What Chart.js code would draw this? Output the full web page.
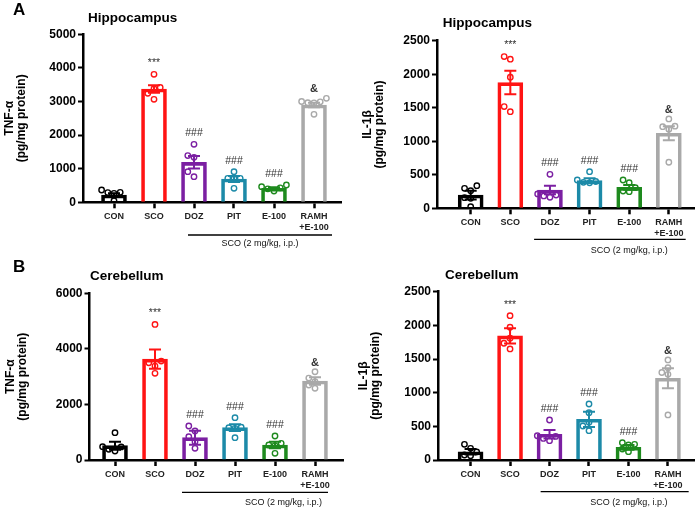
<!DOCTYPE html>
<html>
<head>
<meta charset="utf-8">
<script src="https://cdn.jsdelivr.net/npm/chart.js@4.4.1/dist/chart.umd.min.js"></script>
<style>
  body { margin: 0; background: #fff; width: 700px; height: 508px; position: relative; overflow: hidden; }
  canvas { position: absolute; display: block; }
</style>
</head>
<body>
<canvas id="hippoTnf" width="350" height="270" style="left:0;top:0"></canvas>
<canvas id="hippoIl" width="350" height="270" style="left:350px;top:0"></canvas>
<canvas id="cereTnf" width="350" height="270" style="left:0;top:254px"></canvas>
<canvas id="cereIl" width="350" height="270" style="left:350px;top:254px"></canvas>
<script>
// Groups and significance marks
const groups = ['CON', 'SCO', 'DOZ', 'PIT', 'E-100', ['RAMH', '+E-100']];
const marks = ['', '***', '###', '###', '###', '&'];
const groupColors = ['#000000', '#ff1414', '#7b1fa2', '#1c8aa8', '#1e8a1e', '#a9a9a9'];

// Hippocampus TNF-a
const hippoTnfMean = [217, 3372, 1190, 693, 417, 2896];
const hippoTnfSem = [55, 110, 185, 90, 30, 70];
const hippoTnfPts = [
    [366, 297, 290, 268, 48],
    [3810, 3420, 3380, 3244, 3065],
    [1726, 1390, 1340, 910, 762],
    [911, 714, 714, 700, 417],
    [515, 464, 430, 400, 336],
    [3095, 3000, 2990, 2964, 2960, 2619]
];

// Hippocampus IL-1b
const hippoIlMean = [198, 1875, 273, 412, 313, 1119];
const hippoIlSem = [65, 175, 64, 36, 35, 105];
const hippoIlPts = [
    [337, 298, 263, 158, 150, 24],
    [2263, 2224, 1955, 1517, 1442],
    [507, 215, 198, 184, 164],
    [546, 422, 400, 388, 380],
    [422, 382, 308, 258, 248],
    [1333, 1225, 1218, 1180, 687]
];

// Cerebellum TNF-a
const cereTnfMean = [515, 3633, 803, 1163, 540, 2842];
const cereTnfSem = [145, 347, 250, 120, 118, 133];
const cereTnfPts = [
    [983, 480, 470, 385, 324],
    [4880, 3560, 3500, 3381, 3118],
    [1223, 1043, 839, 659, 420],
    [1522, 1180, 1160, 1139, 803],
    [863, 600, 540, 520, 240],
    [3177, 2950, 2820, 2700, 2579]
];

// Cerebellum IL-1b
const cereIlMean = [123, 1843, 382, 605, 189, 1214];
const cereIlSem = [40, 114, 64, 113, 35, 150];
const cereIlPts = [
    [233, 174, 120, 74, 64],
    [2144, 1972, 1810, 1734, 1650],
    [594, 360, 350, 320, 287],
    [832, 703, 560, 505, 435],
    [257, 233, 223, 163, 123],
    [1486, 1372, 1300, 1273, 669]
];

Chart.defaults.font.family = "'Liberation Sans', Arial, sans-serif";
Chart.defaults.color = '#000';

const W = 350, H = 270, X_AXIS_H = 40, UNIT_PX = 40;

// spread overlapping dots sideways like a scatter dot plot
const swarm = (values, pxPerValue) => {
    const placed = [];
    const step = 6.2;
    return values.slice().sort((a, b) => a - b).map(v => {
        const py = v * pxPerValue;
        for (let k = 0; ; k++) {
            const off = k === 0 ? 0 : (k % 2 ? -1 : 1) * Math.ceil(k / 2) * step;
            if (placed.every(p => Math.hypot(p.x - off, p.y - py) >= step)) {
                placed.push({ x: off, y: py });
                return { off: off / UNIT_PX, v };
            }
        }
    });
};

const extras = {
    id: 'extras',
    afterDraw(chart, args, o) {
        const { ctx } = chart;
        const x = chart.scales.x, y = chart.scales.y;
        ctx.save();

        // error bars (mean +/- SEM)
        o.means.forEach((m, i) => {
            const px = x.getPixelForValue(i);
            const hi = y.getPixelForValue(m + o.sems[i]);
            const lo = y.getPixelForValue(Math.max(m - o.sems[i], 0));
            ctx.strokeStyle = groupColors[i];
            ctx.lineWidth = 2;
            ctx.beginPath();
            ctx.moveTo(px, hi); ctx.lineTo(px, lo);
            ctx.moveTo(px - 6, hi); ctx.lineTo(px + 6, hi);
            ctx.moveTo(px - 6, lo); ctx.lineTo(px + 6, lo);
            ctx.stroke();

            // significance mark above the highest dot / error bar
            if (marks[i]) {
                const top = Math.min(hi, y.getPixelForValue(Math.max(...o.points[i])));
                ctx.fillStyle = '#333';
                ctx.font = marks[i] === '&' ? "bold 11px 'Liberation Sans', Arial" : "10.5px 'Liberation Sans', Arial";
                ctx.textAlign = 'center';
                ctx.textBaseline = 'middle';
                ctx.fillText(marks[i], px, top - (marks[i] === '&' ? 9 : 11));
            }
        });

        // panel letter and region title
        ctx.fillStyle = '#000';
        ctx.textAlign = 'left';
        ctx.textBaseline = 'middle';
        if (o.letter) {
            ctx.font = "bold 17px 'Liberation Sans', Arial";
            ctx.fillText(o.letter, 13, o.letterY);
        }
        ctx.font = "bold 13.5px 'Liberation Sans', Arial";
        ctx.fillText(o.title, o.titleX, o.titleY);

        // treatment bracket
        const [from, to, mid] = o.bracket;
        ctx.strokeStyle = '#000';
        ctx.lineWidth = 1.3;
        ctx.beginPath();
        ctx.moveTo(x.getPixelForValue(from), o.lineY);
        ctx.lineTo(x.getPixelForValue(to), o.lineY);
        ctx.stroke();
        ctx.font = "9px 'Liberation Sans', Arial";
        ctx.textAlign = 'center';
        ctx.fillStyle = '#111';
        ctx.fillText('SCO (2 mg/kg, i.p.)', x.getPixelForValue(mid), o.textY);
        ctx.restore();
    }
};

function makePanel(id, p) {
    const pxPerValue = (p.box.b - p.box.t) / p.yMax;
    const dots = [], dotColors = [];
    p.points.forEach((vals, i) => {
        swarm(vals, pxPerValue).forEach(d => {
            dots.push({ x: i + d.off, y: d.v });
            dotColors.push(groupColors[i]);
        });
    });

    new Chart(document.getElementById(id), {
        type: 'bar',
        data: {
            datasets: [
                {
                    type: 'scatter',
                    data: dots,
                    pointRadius: 2.7,
                    pointBorderWidth: 1.4,
                    pointBorderColor: dotColors,
                    pointBackgroundColor: 'rgba(255,255,255,0)',
                    order: 1
                },
                {
                    type: 'bar',
                    data: p.means.map((m, i) => ({ x: i, y: m })),
                    backgroundColor: 'rgba(255,255,255,0)',
                    borderColor: groupColors,
                    borderWidth: 3,
                    borderSkipped: 'bottom',
                    barThickness: 25,
                    order: 2
                }
            ]
        },
        options: {
            responsive: false,
            animation: false,
            events: [],
            layout: {
                padding: { left: 0, top: p.box.t, right: W - p.box.r, bottom: H - p.box.b - X_AXIS_H }
            },
            plugins: {
                legend: { display: false },
                tooltip: { enabled: false },
                extras: p
            },
            scales: {
                x: {
                    type: 'linear',
                    min: p.xMin,
                    max: p.xMax,
                    offset: false,
                    afterBuildTicks: s => { s.ticks = groups.map((g, i) => ({ value: i })); },
                    afterFit: s => { s.height = X_AXIS_H; },
                    ticks: {
                        autoSkip: false,
                        maxRotation: 0,
                        padding: 3,
                        color: '#222',
                        font: { size: 9, weight: 'bold', lineHeight: 1.2 },
                        callback: v => groups[v]
                    },
                    grid: { offset: false, drawOnChartArea: false, tickLength: 6, tickWidth: 2.5, tickColor: '#000' },
                    border: { color: '#000', width: 2.5 }
                },
                y: {
                    min: 0,
                    max: p.yMax,
                    afterFit: s => { s.width = p.box.l; },
                    ticks: {
                        stepSize: p.yStep,
                        padding: 2,
                        font: { size: 12, weight: 'bold' },
                        callback: v => String(v)
                    },
                    grid: { drawOnChartArea: false, tickLength: 5, tickWidth: 2, tickColor: '#000' },
                    border: { color: '#000', width: 2.5 },
                    title: {
                        display: true,
                        text: p.yTitle,
                        font: { size: 12, weight: 'bold', lineHeight: 1 },
                        padding: { top: p.titlePad, bottom: 0 }
                    }
                }
            }
        },
        plugins: [extras]
    });
}

makePanel('hippoTnf', {
    means: hippoTnfMean, sems: hippoTnfSem, points: hippoTnfPts,
    yMax: 5000, yStep: 1000, yTitle: ['TNF-α', '(pg/mg protein)'], titlePad: 4,
    box: { l: 83, t: 34.3, r: 341, b: 202.3 }, xMin: -0.775, xMax: 5.675,
    letter: 'A', letterY: 10, title: 'Hippocampus', titleX: 88, titleY: 18.5,
    bracket: [1.85, 5.45, 3.65], lineY: 235, textY: 243.3
});

makePanel('hippoIl', {
    means: hippoIlMean, sems: hippoIlSem, points: hippoIlPts,
    yMax: 2500, yStep: 500, yTitle: ['IL-1β', '(pg/mg protein)'], titlePad: 11.5,
    box: { l: 87, t: 40.7, r: 347, b: 208.3 }, xMin: -0.85, xMax: 5.65,
    title: 'Hippocampus', titleX: 92.7, titleY: 23.3,
    bracket: [1.6, 5.425, 4.0], lineY: 239.3, textY: 250.7
});

makePanel('cereTnf', {
    means: cereTnfMean, sems: cereTnfSem, points: cereTnfPts,
    yMax: 6000, yStep: 2000, yTitle: ['TNF-α', '(pg/mg protein)'], titlePad: 5,
    box: { l: 89.5, t: 39.3, r: 343, b: 206 }, xMin: -0.6375, xMax: 5.7,
    letter: 'B', letterY: 13, title: 'Cerebellum', titleX: 90, titleY: 22.7,
    bracket: [1.675, 5.325, 4.21], lineY: 238.3, textY: 248.3
});

makePanel('cereIl', {
    means: cereIlMean, sems: cereIlSem, points: cereIlPts,
    yMax: 2500, yStep: 500, yTitle: ['IL-1β', '(pg/mg protein)'], titlePad: 8,
    box: { l: 88, t: 37.7, r: 348, b: 206 }, xMin: -0.825, xMax: 5.675,
    title: 'Cerebellum', titleX: 95, titleY: 21.7,
    bracket: [1.775, 5.525, 4.01], lineY: 237.7, textY: 248.3
});
</script>
</body>
</html>
